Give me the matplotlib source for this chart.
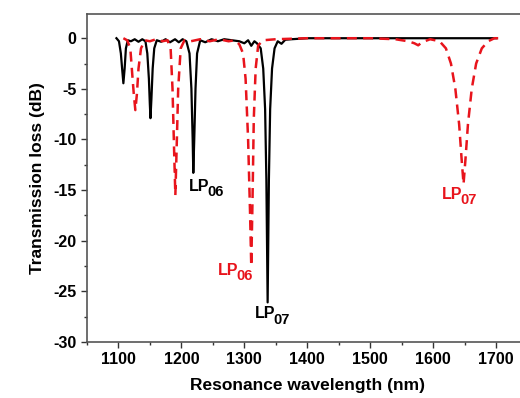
import matplotlib
matplotlib.use("Agg")
import matplotlib.pyplot as plt
from matplotlib.ticker import MultipleLocator

plt.rcParams['font.family'] = ['Liberation Sans', 'DejaVu Sans']
plt.rcParams['font.weight'] = 'bold'
plt.rcParams['axes.unicode_minus'] = False

# Black solid curve (wavelength nm, loss dB)
black_wl = [1097, 1101, 1104, 1106, 1108, 1110, 1112, 1115, 1120, 1126, 1132, 1138, 1143,
            1146, 1148.5, 1150, 1151, 1152.5, 1154.5, 1157, 1161, 1168, 1175, 1182, 1190,
            1196, 1202, 1208, 1213, 1216, 1218, 1219, 1220.5, 1222.5, 1225, 1230, 1238,
            1248, 1258, 1268, 1280, 1292, 1300, 1306, 1311, 1316, 1320, 1326, 1330, 1333,
            1335, 1337, 1339, 1341, 1344, 1348, 1353, 1359, 1365, 1375, 1400, 1450, 1500,
            1550, 1600, 1650, 1700]
black_db = [0, -0.3, -1.5, -3, -4.45, -3, -1, -0.2, -0.3, -0.1, -0.35, -0.1, -0.3,
            -1.5, -4, -6.5, -7.9, -6, -3, -1, -0.2, -0.35, -0.1, -0.4, -0.1,
            -0.4, -0.1, -0.3, -1.5, -5, -10, -13.3, -10, -5, -1.5, -0.2, -0.4,
            -0.1, -0.3, -0.1, -0.2, -0.3, -0.5, -0.2, -0.75, -0.3, -0.5, -1, -3, -7,
            -14, -26.1, -14, -7, -3, -1, -0.3, -0.55, -0.15, -0.1, 0, 0, 0,
            0, 0, 0, 0]

# Red dashed curve
red_wl = [1108, 1114, 1119, 1122, 1124.5, 1127, 1129.5, 1132, 1136, 1142, 1150, 1160, 1170,
          1178, 1183, 1186, 1188.5, 1190.5, 1192.5, 1195, 1199, 1205, 1215, 1230, 1245,
          1260, 1275, 1285, 1292, 1298, 1302, 1306, 1309, 1311, 1313, 1315, 1318, 1322,
          1330, 1350, 1400, 1450, 1500, 1540, 1560, 1570, 1576, 1582, 1595, 1610, 1620,
          1628, 1635, 1641, 1645, 1648, 1651, 1655, 1661, 1668, 1677, 1687, 1697, 1703]
red_db = [0, -0.2, -1, -3.5, -5.5, -7.1, -5.5, -3, -1, -0.2, -0.3, -0.1, -0.3,
          -0.2, -1, -5, -11, -15.5, -11, -5, -1, -0.2, -0.3, -0.1, -0.3,
          -0.1, -0.3, -0.2, -0.6, -1.5, -4, -10, -17, -22.5, -16, -8, -3, -0.7,
          -0.2, -0.1, 0, 0, 0, -0.1, -0.3, -0.5, -0.7, -0.4, -0.1, -0.3, -1,
          -2.5, -5, -8.5, -12, -14.4, -12, -8.5, -5, -2.5, -1, -0.3, 0, 0]

label_main = ['LP', 'LP', 'LP', 'LP']
label_sub = ['06', '06', '07', '07']
label_x = [1212, 1258, 1316, 1613]
label_y = [-14.6, -22.9, -27.2, -15.4]
label_c = ['black', '#e8141c', 'black', '#e8141c']

fig = plt.figure(figsize=(5.2, 3.98), dpi=100)
ax = fig.add_axes([0.167, 0.141, 0.848, 0.824])

ax.plot(black_wl, black_db, color='black', lw=1.6, zorder=3)
ax.plot(red_wl, red_db, color='#e8141c', lw=1.8, ls=(0, (4, 2.5)), zorder=4)

for m, s, x, y, c in zip(label_main, label_sub, label_x, label_y, label_c):
    ax.annotate(m, (x, y), color=c, fontsize=11.5, fontweight='bold', ha='left', va='center')
    ax.annotate(s, (x, y), xytext=(13.6, -4.5), textcoords='offset points',
                color=c, fontsize=10.5, fontweight='bold', ha='left', va='center')

ax.set_xlim(1050, 1750)
ax.set_ylim(-30, 2.4)
ax.set_xticks([1100, 1200, 1300, 1400, 1500, 1600, 1700])
ax.xaxis.set_minor_locator(MultipleLocator(50))
ax.yaxis.set_major_locator(MultipleLocator(5))
ax.yaxis.set_minor_locator(MultipleLocator(2.5))
ax.tick_params(which='major', direction='out', length=4, width=1, labelsize=11.5, colors='#333333', labelcolor='black')
ax.tick_params(which='minor', direction='out', length=2.5, width=1, colors='#333333')
for lab in ax.get_xticklabels() + ax.get_yticklabels():
    lab.set_fontweight('bold')
for sp in ax.spines.values():
    sp.set_color('#555555')
    sp.set_linewidth(1.2)

ax.set_xlabel('Resonance wavelength (nm)', fontsize=12.5, fontweight='bold', labelpad=8)
ax.set_ylabel('Transmission loss (dB)', fontsize=12.5, fontweight='bold', labelpad=6)

fig.savefig('out.png', dpi=100)
